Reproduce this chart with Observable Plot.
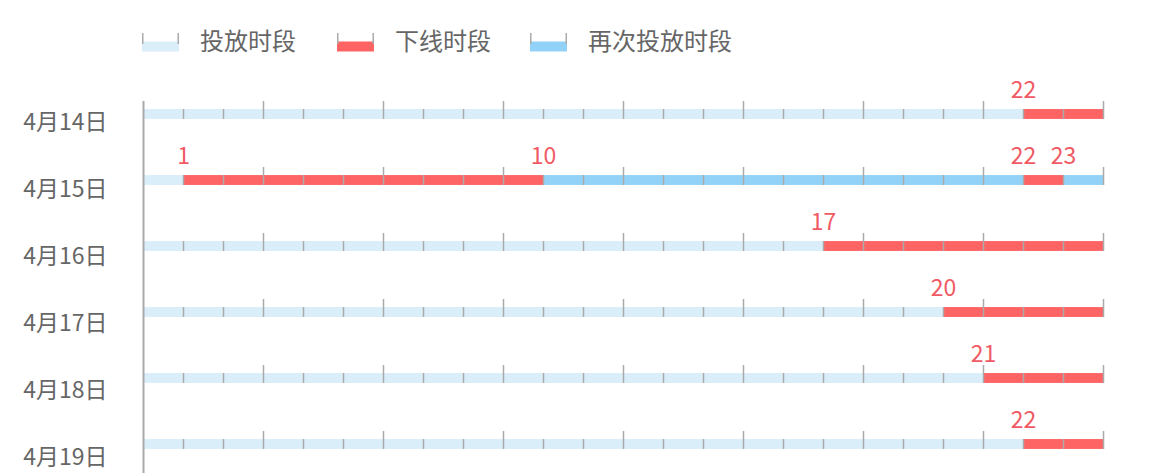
<!DOCTYPE html>
<html>
<head>
<meta charset="utf-8">
<script src="https://cdn.jsdelivr.net/npm/d3@7"></script>
<script src="https://cdn.jsdelivr.net/npm/@observablehq/plot@0.6"></script>
<style>
  html, body { margin: 0; padding: 0; background: #fff; overflow: hidden; width: 1161px; height: 473px; }
  body { font-family: "Noto Sans CJK SC", "Noto Sans", sans-serif; }
  #legend { position: relative; height: 70px; }
  .item { position: absolute; top: 0; height: 70px; }
  .item svg { position: absolute; left: 0; top: 32px; }
  .item span { position: absolute; top: 24px; font-size: 24px; line-height: 32px; color: #666; white-space: nowrap; left: 58px; }
  #chart { position: relative; height: 403px; }
</style>
</head>
<body>
<div id="legend"></div>
<div id="chart"></div>
<script>
// ---- data ----
const dates = ["4月14日", "4月15日", "4月16日", "4月17日", "4月18日", "4月19日"];
const types = ["投放时段", "下线时段", "再次投放时段"];
const colors = ["#daeefa", "#ff6464", "#92d2f8"];
// segments per day: [start hour, end hour, type index]
const seg14 = [[0, 22, 0], [22, 24, 1]];
const seg15 = [[0, 1, 0], [1, 10, 1], [10, 22, 2], [22, 23, 1], [23, 24, 2]];
const seg16 = [[0, 17, 0], [17, 24, 1]];
const seg17 = [[0, 20, 0], [20, 24, 1]];
const seg18 = [[0, 21, 0], [21, 24, 1]];
const seg19 = [[0, 22, 0], [22, 24, 1]];
const daySegments = [seg14, seg15, seg16, seg17, seg18, seg19];
// change-point labels per day
const marks14 = [22];
const marks15 = [1, 10, 22, 23];
const marks16 = [17];
const marks17 = [20];
const marks18 = [21];
const marks19 = [22];
const dayMarks = [marks14, marks15, marks16, marks17, marks18, marks19];
const hourTicks = [1,2,3,4,5,6,7,8,9,10,11,12,13,14,15,16,17,18,19,20,21,22,23,24];
const majorEvery = 3;

// ---- tables ----
const segments = daySegments.flatMap((s, i) => s.map(([a, b, t]) => ({date: dates[i], start: a, end: b, type: types[t]})));
const labels = dayMarks.flatMap((m, i) => m.map(h => ({date: dates[i], hour: h})));
const ticks = dates.flatMap(d => hourTicks.map(h => ({date: d, hour: h, major: h % majorEvery === 0})));

// ---- legend ----
const legend = document.getElementById("legend");
const legendLeft = [142, 337, 530];
types.forEach((t, i) => {
  const it = document.createElement("div");
  it.className = "item";
  it.style.left = legendLeft[i] + "px";
  it.innerHTML = `<svg width="37" height="22">
    <rect x="0" y="9.5" width="37" height="10" fill="${colors[i]}"></rect>
    <line x1="0.75" x2="0.75" y1="1" y2="12" stroke="#aaa" stroke-width="1.5"></line>
    <line x1="36.25" x2="36.25" y1="1" y2="12" stroke="#aaa" stroke-width="1.5"></line>
  </svg><span>${t}</span>`;
  legend.appendChild(it);
});

// ---- main plot ----
const W = 1161;
const bandMain = 66.1;
const topMain = 10.65;
const barH = 10;
const inBar = (bandMain - barH) / 2;

const main = Plot.plot({
  width: W,
  height: 410,
  marginLeft: 143,
  marginRight: 58,
  marginTop: 31,
  marginBottom: 0,
  style: {fontFamily: "'Noto Sans CJK SC', 'Noto Sans', sans-serif", background: "transparent"},
  x: {domain: [0, 24], axis: null},
  y: {type: "band", domain: dates, range: [topMain, topMain + bandMain * dates.length], padding: 0, axis: null},
  color: {domain: types, range: colors},
  marks: [
    Plot.barX(segments, {x1: "start", x2: "end", y: "date", fill: "type", insetTop: inBar, insetBottom: inBar}),
    Plot.tickX(ticks.filter(d => !d.major), {x: "hour", y: "date", stroke: "#aaa", strokeWidth: 1.5, insetTop: inBar, insetBottom: inBar}),
    Plot.tickX(ticks.filter(d => d.major), {x: "hour", y: "date", stroke: "#aaa", strokeWidth: 1.5, insetTop: inBar - 8, insetBottom: inBar}),
    Plot.ruleX([0], {stroke: "#aaa", strokeWidth: 2}),
    Plot.text(labels, {x: "hour", y: "date", text: d => String(d.hour), fill: "#f05a64", fontSize: 23, dy: -23.5})
  ]
});
main.style.position = "absolute";
main.style.left = "0px";
main.style.top = "0px";
document.getElementById("chart").appendChild(main);

// ---- category labels (y axis) ----
const bandLab = 67.7;
const topLab = 16.85;
const ylab = Plot.plot({
  width: 150,
  height: 424,
  marginLeft: 107,
  marginRight: 0,
  marginTop: 0,
  marginBottom: 0,
  style: {fontFamily: "'Noto Sans CJK SC', 'Noto Sans', sans-serif", background: "transparent"},
  y: {type: "band", domain: dates, range: [topLab, topLab + bandLab * dates.length], padding: 0},
  marks: [
    Plot.axisY({anchor: "left", tickSize: 0, tickPadding: 0, fontSize: 23, fill: "#666", label: null})
  ]
});
ylab.style.position = "absolute";
ylab.style.left = "0px";
ylab.style.top = "0px";
document.getElementById("chart").appendChild(ylab);
</script>
</body>
</html>
